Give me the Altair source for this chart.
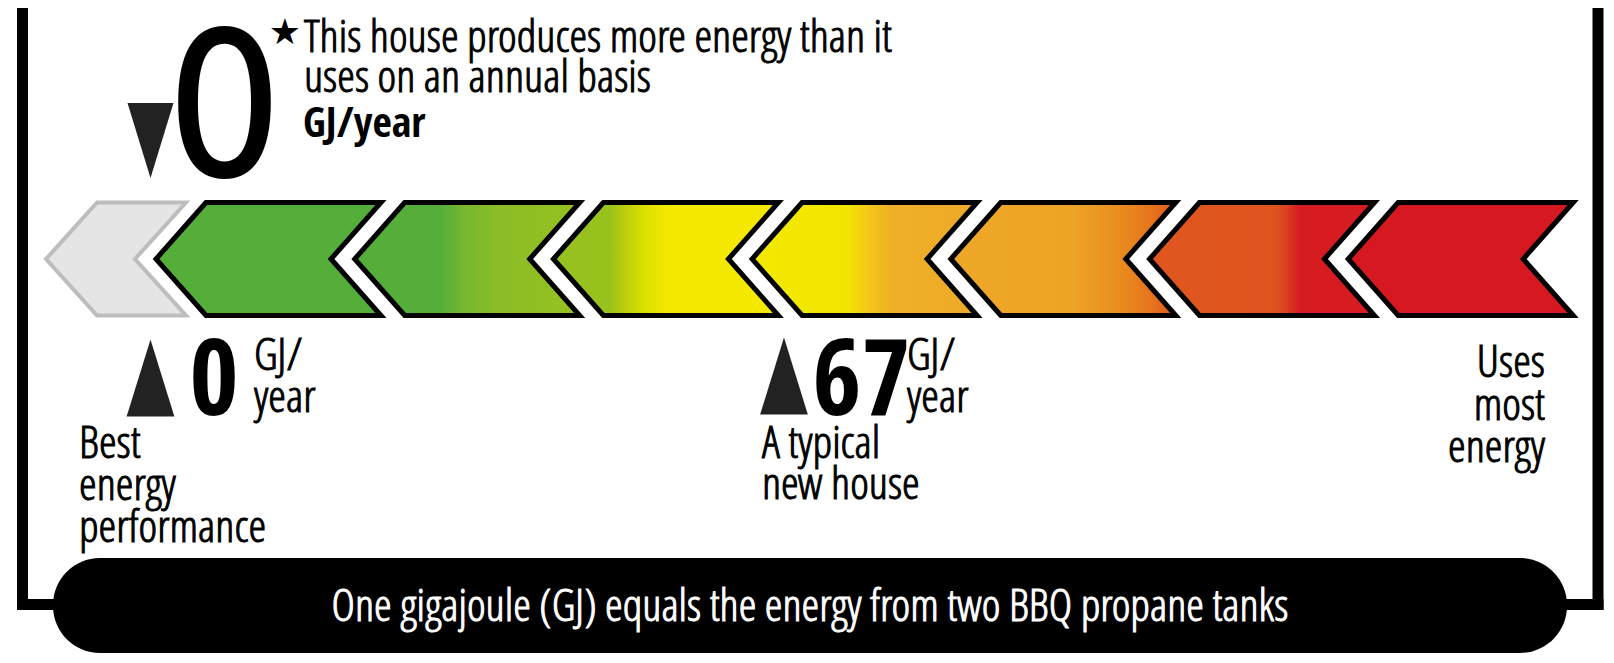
import altair as alt
import pandas as pd

rating_value = [0]                                   # this house, GJ/year
rating_note_lines = ["This house produces more energy than it",
                     "uses on an annual basis"]
rating_unit = ["GJ/year"]
star_symbol = ["★"]

reference_values = [0, 67]                           # best / typical new house
reference_unit_lines = ["GJ/", "year"]
best_caption = ["Best", "energy", "performance"]
typical_caption = ["A typical", "new house"]
worst_caption = ["Uses", "most", "energy"]
footer_text = ["One gigajoule (GJ) equals the energy from two BBQ propane tanks"]

segment_names = ["net producer", "1", "2", "3", "4", "5", "6", "7"]

# ---------------- styles ----------------
FONT = "Open Sans Condensed Light, DejaVu Sans Condensed, sans-serif"
BIG_FONT = "DejaVu Sans Condensed, sans-serif"
BOLD_FONT = "Open Sans Condensed, DejaVu Sans Condensed, sans-serif"
TXT = 45
segment_fill_stops = [
    [(0, "#e5e5e6"), (1, "#e5e5e6")],
    [(0, "#56ae3a"), (1, "#56ae3a")],
    [(0, "#55ae3a"), (0.38, "#55ae3a"), (0.5, "#7ab82e"), (0.66, "#8cbd27"), (1, "#96c11f")],
    [(0, "#95c11f"), (0.25, "#98c21d"), (0.32, "#bccf0a"), (0.40, "#d9e000"), (0.5, "#f3e800"), (1, "#f5e900")],
    [(0, "#f3e800"), (0.42, "#f2e600"), (0.52, "#f4c61a"), (0.62, "#efb026"), (1, "#eea928")],
    [(0, "#eea828"), (0.55, "#eda326"), (0.75, "#e98c1f"), (0.88, "#e6761b"), (1, "#e05a20")],
    [(0, "#e0561f"), (0.55, "#e0551f"), (0.60, "#da4420"), (0.67, "#d61b21"), (1, "#d61b21")],
    [(0, "#d61920"), (1, "#d61920")],
]
segment_stroke = ["#bdbdc0"] + ["#000000"] * 7
segment_stroke_w = [4] + [5] * 7

# ---------------- layout (page pixels) ----------------
W, H, PAGE = 1598, 647, 8
GJ0_PX, PX_PER_GJ = 150.5, 9.455          # where 0 GJ sits, pixels per GJ


def gj(px):
    return (px - GJ0_PX) / PX_PER_GJ


xs = alt.Scale(domain=[gj(PAGE), gj(PAGE + W)], nice=False, zero=False)
ys = alt.Scale(domain=[PAGE, PAGE + H], nice=False, zero=False, reverse=True)


def X(f):
    return alt.X(f, type="quantitative", scale=xs, axis=None)


def Y(f):
    return alt.Y(f, type="quantitative", scale=ys, axis=None)


layers = []

# ---- chevron scale ----
TOP, MID, BOT = 202.5, 259, 315.5
for i, name in enumerate(segment_names):
    if i == 0:
        tip, a, width = 46, 51, 89
    else:
        tip, a, width = 156 + 198.7 * (i - 1), 50, 175
    rows = []
    for yy, off in [(TOP, a), (MID, 0), (BOT, a)]:
        rows.append({"seg": name, "y": yy, "xl": gj(tip + off), "xr": gj(tip + width + off)})
    grad = alt.LinearGradient(
        gradient="linear",
        stops=[alt.GradientStop(color=c, offset=o) for o, c in segment_fill_stops[i]],
        x1=0, x2=1, y1=0, y2=0,
    )
    layers.append(
        alt.Chart(pd.DataFrame(rows))
        .mark_area(orient="horizontal", fill=grad, stroke=segment_stroke[i],
                   strokeWidth=segment_stroke_w[i], strokeJoin="miter", opacity=1)
        .encode(y=Y("y"), x=X("xl"), x2="xr")
    )

# ---- markers ----
DOWN = "M -0.613 -1 L 0.613 -1 L 0 1 Z"
UP = "M 0 -1 L 0.62 1 L -0.62 1 Z"
layers.append(
    alt.Chart(pd.DataFrame({"v": rating_value, "y": [140.5]}))
    .mark_point(shape=DOWN, filled=True, size=75 ** 2, color="#222222", opacity=1, strokeWidth=0)
    .encode(x=X("v"), y=Y("y"))
)
layers.append(
    alt.Chart(pd.DataFrame({"v": reference_values, "y": [378, 376]}))
    .mark_point(shape=UP, filled=True, size=77 ** 2, color="#222222", opacity=1, strokeWidth=0)
    .encode(x=X("v"), y=Y("y"))
)


def text_layer(rows, **mk):
    df = pd.DataFrame(rows, columns=["px", "y", "t"])
    df["x"] = df["px"].map(gj)
    base = dict(font=FONT, fontSize=TXT, color="#000000", baseline="alphabetic", align="left",
                stroke="#000000", strokeWidth=1.0)
    base.update(mk)
    return alt.Chart(df).mark_text(**base).encode(x=X("x"), y=Y("y"), text="t:N")


# regular left text
reg_rows = [
    (304, 52, rating_note_lines[0]),
    (304, 92, rating_note_lines[1]),
    (254, 370, reference_unit_lines[0]),
    (254, 412, reference_unit_lines[1]),
    (907, 370, reference_unit_lines[0]),
    (907, 412, reference_unit_lines[1]),
    (79, 458, best_caption[0]),
    (79, 500, best_caption[1]),
    (79, 542, best_caption[2]),
    (762, 458, typical_caption[0]),
    (762, 499, typical_caption[1]),
]
layers.append(text_layer(reg_rows))
layers.append(text_layer([(303, 137, rating_unit[0])], font=BOLD_FONT, fontWeight="bold",
                         fontSize=42, strokeWidth=0))
layers.append(text_layer([(1545, 377, worst_caption[0]),
                          (1545, 420, worst_caption[1]),
                          (1545, 462, worst_caption[2])], align="right"))
# big rating number
layers.append(text_layer([(224.5, 175, str(rating_value[0]))], font=BIG_FONT, fontSize=200,
                         align="center", strokeWidth=2))
# reference numbers
layers.append(text_layer([(214, 415, str(reference_values[0])),
                          (861.5, 415, str(reference_values[1]))],
                         font=BOLD_FONT, fontSize=106, fontWeight="bold", align="center",
                         strokeWidth=0))
# star
layers.append(text_layer([(285, 33, star_symbol[0])], font="DejaVu Sans", fontSize=36,
                         align="center", baseline="middle", strokeWidth=0))

# ---- footer pill ----
layers.append(
    alt.Chart(pd.DataFrame({"x": [gj(53)], "x2": [gj(1567)], "y": [558], "y2": [653]}))
    .mark_rect(cornerRadius=47, color="#000000")
    .encode(x=X("x"), x2="x2", y=Y("y"), y2="y2")
)
layers.append(text_layer([(810, 621, footer_text[0])], color="#ffffff", stroke="#ffffff",
                         align="center"))

# ---- frame ----
frame = pd.DataFrame({
    "x": [gj(22.5), gj(17), gj(1598), gj(1540)],
    "x2": [gj(22.5), gj(60), gj(1598), gj(1603.5)],
    "y": [PAGE, 604.5, PAGE, 604.5],
    "y2": [610, 604.5, 610, 604.5],
})
layers.append(
    alt.Chart(frame).mark_rule(strokeWidth=11, color="#000000", strokeCap="butt")
    .encode(x=X("x"), x2="x2", y=Y("y"), y2="y2")
)

chart = (
    alt.layer(*layers)
    .properties(width=W, height=H, padding=0, autosize=alt.AutoSizeParams(type="none"),
                background="#ffffff")
    .configure_view(stroke=None)
)

chart.save("out.html", embed_options={"renderer": "svg", "actions": False})
